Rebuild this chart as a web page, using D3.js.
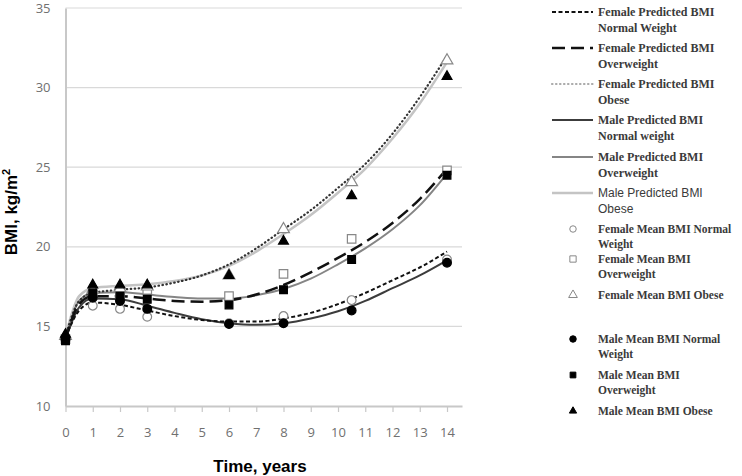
<!DOCTYPE html>
<html>
<head>
<meta charset="utf-8">
<script src="https://cdn.jsdelivr.net/npm/d3@7"></script>
<style>
  body { margin: 0; background: #fff; }
  svg { display: block; }
</style>
</head>
<body>
<svg id="draw"></svg>
<script>
// curve sample points (years)
var curveYears = [0, 0.5, 1, 2, 3, 4, 5, 6, 7, 8, 9, 10, 11, 12, 13, 14];
var femaleNormalPred = [14.3, 16.0, 16.5, 16.35, 16.0, 15.65, 15.4, 15.3, 15.3, 15.5, 15.85, 16.4, 17.1, 17.9, 18.7, 19.7];
var femaleOverPred   = [14.2, 16.4, 16.9, 16.9, 16.75, 16.6, 16.55, 16.65, 17.0, 17.6, 18.4, 19.3, 20.3, 21.5, 23.0, 24.9];
var femaleObesePred  = [14.4, 16.6, 17.1, 17.3, 17.45, 17.75, 18.2, 18.9, 19.9, 21.1, 22.3, 23.7, 25.2, 27.1, 29.4, 32.0];
var maleNormalPred   = [14.2, 16.2, 16.75, 16.7, 16.3, 15.85, 15.45, 15.2, 15.1, 15.2, 15.5, 15.95, 16.6, 17.4, 18.2, 19.15];
var maleOverPred     = [14.1, 16.6, 17.1, 17.15, 17.0, 16.85, 16.75, 16.75, 16.95, 17.35, 18.0, 18.9, 19.9, 21.1, 22.6, 24.6];
var maleObesePred    = [14.4, 16.9, 17.4, 17.55, 17.65, 17.85, 18.2, 18.8, 19.7, 20.8, 22.0, 23.4, 24.9, 26.8, 29.0, 31.6];

// observed means
var visitYears = [0, 1, 2, 3, 6, 8, 10.5, 14];
var femaleNormalMean = [14.3, 16.3, 16.1, 15.6, 15.2, 15.65, 16.65, 19.2];
var femaleOverMean   = [14.2, 17.0, 17.0, 17.3, 16.9, 18.3, 20.5, 24.8];
var femaleObeseMean  = [14.4, 17.3, 17.4, 17.5, 18.2, 21.1, 24.05, 31.7];
var maleNormalMean   = [14.2, 16.8, 16.6, 16.1, 15.15, 15.2, 16.0, 19.0];
var maleOverMean     = [14.1, 17.1, 16.9, 16.7, 16.35, 17.3, 19.2, 24.5];
var maleObeseMean    = [14.5, 17.6, 17.6, 17.6, 18.2, 20.35, 23.2, 30.7];

var xTicks = d3.range(0, 15);
var yTicks = [10, 15, 20, 25, 30, 35];

var width = 742, height = 476;
var svg = d3.select("#draw").attr("width", width).attr("height", height);

var x = d3.scaleLinear().domain([0, 14.55]).range([65.5, 462]);
var y = d3.scaleLinear().domain([10, 35]).range([406, 8]);

// gridlines
svg.append("g").selectAll("line")
  .data(yTicks.slice(1))
  .enter().append("line")
  .attr("x1", x(0)).attr("x2", x(14.55))
  .attr("y1", d => y(d)).attr("y2", d => y(d))
  .attr("stroke", "#d9d9d9").attr("stroke-width", 1.2);

// axes
var xAxis = svg.append("g")
  .attr("transform", "translate(0," + y(10) + ")")
  .call(d3.axisBottom(x).tickValues(xTicks).tickSize(6).tickPadding(16).tickSizeOuter(0));
var yAxis = svg.append("g")
  .attr("transform", "translate(" + x(0) + ",0)")
  .call(d3.axisLeft(y).tickValues(yTicks).tickSize(0).tickPadding(15));

[xAxis, yAxis].forEach(function(a) {
  a.select(".domain").attr("stroke", "#c8c8c8").attr("stroke-width", 2);
  a.selectAll(".tick line").attr("stroke", "#c8c8c8").attr("stroke-width", 1.2);
  a.selectAll(".tick text")
    .attr("fill", "#707070")
    .style("font-family", "'Open Sans', sans-serif")
    .style("font-size", "13px");
});

// axis titles
svg.append("text")
  .attr("x", 260).attr("y", 472)
  .attr("text-anchor", "middle")
  .style("font-family", "'Liberation Sans', Arial, sans-serif")
  .style("font-weight", "bold").style("font-size", "17px")
  .text("Time, years");

var yt = svg.append("text")
  .attr("transform", "translate(17,212) rotate(-90)")
  .attr("text-anchor", "middle")
  .style("font-family", "'Liberation Sans', Arial, sans-serif")
  .style("font-weight", "bold").style("font-size", "17px");
yt.append("tspan").text("BMI, kg/m");
yt.append("tspan").attr("dy", -7).style("font-size", "11px").text("2");

// predicted curves
var lines = [
  {name: ["Female Predicted BMI", "Normal Weight"], vals: femaleNormalPred, color: "#111", w: 2, dash: "4,2.5", cap: "butt"},
  {name: ["Female Predicted BMI", "Overweight"], vals: femaleOverPred, color: "#111", w: 2.5, dash: "13,6", cap: "butt"},
  {name: ["Female Predicted BMI", "Obese"], vals: femaleObesePred, color: "#333", w: 2.2, dash: "0.5,3.5", cap: "round", legendColor: "#aaa"},
  {name: ["Male Predicted BMI", "Normal weight"], vals: maleNormalPred, color: "#3c3c3c", w: 2, dash: null, cap: "butt"},
  {name: ["Male Predicted BMI", "Overweight"], vals: maleOverPred, color: "#858585", w: 2, dash: null, cap: "butt"},
  {name: ["Male Predicted BMI", "Obese"], vals: maleObesePred, color: "#c4c4c4", w: 2.5, dash: null, cap: "butt", plain: true}
];

var lineGen = d3.line()
  .x((d, i) => x(curveYears[i]))
  .y(d => y(d))
  .curve(d3.curveMonotoneX);

// draw lighter ones first so the dark ones sit on top
var drawOrder = [5, 4, 3, 2, 1, 0];
drawOrder.forEach(function(k) {
  var s = lines[k];
  svg.append("path")
    .attr("d", lineGen(s.vals))
    .attr("fill", "none")
    .attr("stroke", s.color)
    .attr("stroke-width", s.w)
    .attr("stroke-dasharray", s.dash)
    .attr("stroke-linecap", s.cap);
});

// mean markers
var markers = [
  {name: ["Female Mean BMI Normal", "Weight"], vals: femaleNormalMean, shape: d3.symbolCircle, size: 60, fill: "#fff", stroke: "#888"},
  {name: ["Female Mean BMI", "Overweight"], vals: femaleOverMean, shape: d3.symbolSquare, size: 72, fill: "#fff", stroke: "#888"},
  {name: ["Female Mean BMI Obese"], vals: femaleObeseMean, shape: d3.symbolTriangle, size: 60, fill: "#fff", stroke: "#888"},
  {name: ["Male Mean BMI Normal", "Weight"], vals: maleNormalMean, shape: d3.symbolCircle, size: 60, fill: "#000", stroke: "#000"},
  {name: ["Male Mean BMI", "Overweight"], vals: maleOverMean, shape: d3.symbolSquare, size: 60, fill: "#000", stroke: "#000"},
  {name: ["Male Mean BMI Obese"], vals: maleObeseMean, shape: d3.symbolTriangle, size: 42, fill: "#000", stroke: "#000"}
];

markers.forEach(function(m) {
  svg.append("g").selectAll("path")
    .data(m.vals)
    .enter().append("path")
    .attr("transform", (d, i) => "translate(" + x(visitYears[i]) + "," + y(d) + ")")
    .attr("d", d3.symbol().type(m.shape).size(m.size))
    .attr("fill", m.fill)
    .attr("stroke", m.stroke)
    .attr("stroke-width", 1.2);
});

// legend
var legendFont = "'Liberation Serif', 'DejaVu Serif', serif";
var lg = svg.append("g");
var lineRows = [12, 48, 84, 120, 157, 193];
lines.forEach(function(s, i) {
  var yy = lineRows[i];
  lg.append("line")
    .attr("x1", 552).attr("x2", 593)
    .attr("y1", yy).attr("y2", yy)
    .attr("stroke", s.legendColor || s.color)
    .attr("stroke-width", s.w)
    .attr("stroke-dasharray", s.dash)
    .attr("stroke-linecap", s.cap);
  var t = lg.append("text")
    .attr("x", 598).attr("y", yy + 4)
    .attr("fill", "#3a3a3a")
    .style("font-family", s.plain ? "'Liberation Sans', Arial, sans-serif" : legendFont)
    .style("font-weight", s.plain ? "normal" : "bold")
    .style("font-size", "12px");
  s.name.forEach(function(n, j) {
    t.append("tspan").attr("x", 598).attr("dy", j == 0 ? 0 : 16).text(n);
  });
});

var markerRows = [229, 259, 295, 339, 375, 411];
markers.forEach(function(m, i) {
  var yy = markerRows[i];
  lg.append("path")
    .attr("transform", "translate(573," + yy + ")")
    .attr("d", d3.symbol().type(m.shape).size(m.size * 0.55))
    .attr("fill", m.fill)
    .attr("stroke", m.stroke)
    .attr("stroke-width", 1);
  var t = lg.append("text")
    .attr("x", 598).attr("y", yy + 4)
    .attr("fill", "#3a3a3a")
    .style("font-family", legendFont)
    .style("font-weight", "bold")
    .style("font-size", "11.5px");
  m.name.forEach(function(n, j) {
    t.append("tspan").attr("x", 598).attr("dy", j == 0 ? 0 : 15).text(n);
  });
});
</script>
</body>
</html>
